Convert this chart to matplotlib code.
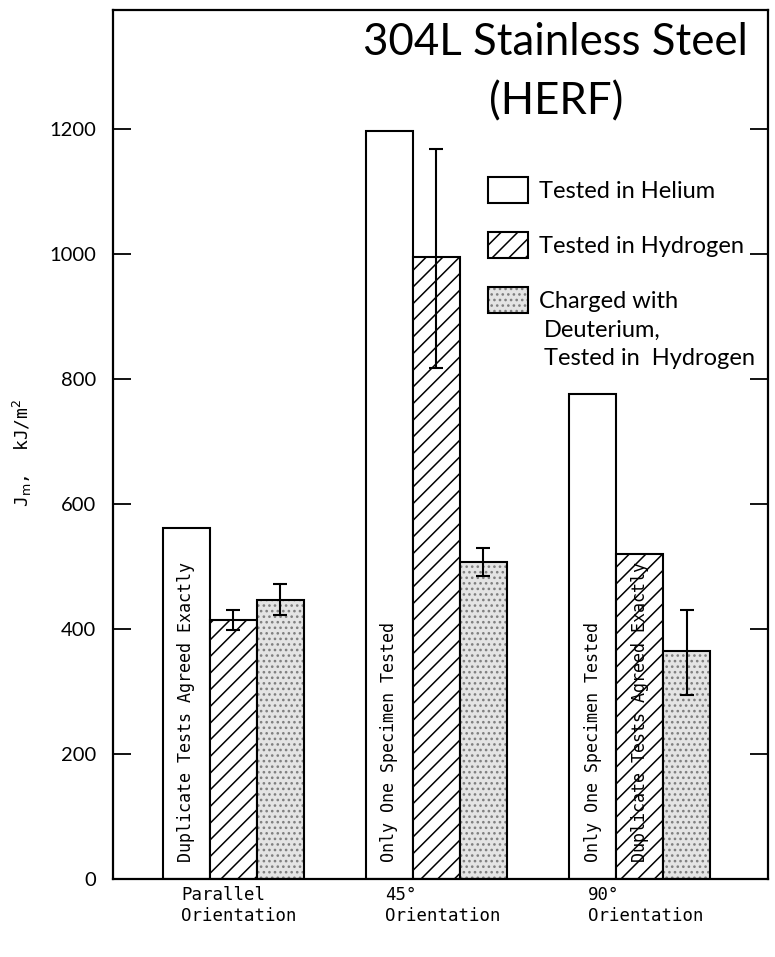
import numpy as np
import matplotlib.pyplot as plt
from matplotlib.patches import Patch
from matplotlib.legend_handler import HandlerTuple

# J_m values (kJ/m^2) for each orientation
orientations = ['Parallel\nOrientation', '45°\nOrientation', '90°\nOrientation']
helium = [562, 1197, 776]
hydrogen = [414, 995, 520]
deuterium = [446, 507, 365]

# scatter bands (below, above); only where more than one specimen was tested
hydrogen_err_idx = [0, 1]
hydrogen_err_low = [16, 178]
hydrogen_err_high = [17, 172]
deuterium_err_idx = [0, 1, 2]
deuterium_err_low = [24, 23, 70]
deuterium_err_high = [26, 22, 65]

# notes written inside bars: (group, series, text)
bar_notes = [(0, 0, 'Duplicate Tests Agreed Exactly'),
             (1, 0, 'Only One Specimen Tested'),
             (2, 0, 'Only One Specimen Tested'),
             (2, 1, 'Duplicate Tests Agreed Exactly')]

plt.rcParams['hatch.linewidth'] = 1.1
mono = 'DejaVu Sans Mono'
sans = 'Lato'
stip_face, stip_dot = '#e4e4e4', '#7f7f7f'

fig = plt.figure(figsize=(7.75, 9.57), dpi=100)
ax = fig.add_axes([0.1458, 0.0815, 0.8452, 0.9081])

x = np.arange(len(orientations))
w = 0.231
pos = [x - w, x, x + w]

ax.bar(pos[0], helium, w, color='white', edgecolor='black', linewidth=1.5)
ax.bar(pos[1], hydrogen, w, color='white', edgecolor='black', linewidth=1.5, hatch='//')
# stippled fill first, then the outline on top
ax.bar(pos[2], deuterium, w, color=stip_face, edgecolor=stip_dot, linewidth=0, hatch='...')
ax.bar(pos[2], deuterium, w, fill=False, edgecolor='black', linewidth=1.5)

hydrogen = np.array(hydrogen)
deuterium = np.array(deuterium)
ax.errorbar(pos[1][hydrogen_err_idx], hydrogen[hydrogen_err_idx],
            yerr=[hydrogen_err_low, hydrogen_err_high], fmt='none',
            ecolor='black', elinewidth=1.5, capsize=5, capthick=1.5)
ax.errorbar(pos[2][deuterium_err_idx], deuterium[deuterium_err_idx],
            yerr=[deuterium_err_low, deuterium_err_high], fmt='none',
            ecolor='black', elinewidth=1.5, capsize=5, capthick=1.5)

for g, s, note in bar_notes:
    ax.text(pos[s][g], 27, note, rotation=90, ha='center', va='bottom',
            family=mono, fontsize=12)

ax.set_xlim(-0.59, 2.63)
ax.set_ylim(0, 1390)
ax.set_yticks(range(0, 1201, 200))
# group labels sit a little right of the group centre
ax.set_xticks(x + 0.03)
ax.set_xticklabels(orientations, family=mono, fontsize=12.5, multialignment='left')
ax.tick_params(axis='x', length=0, pad=5)
ax.tick_params(axis='y', direction='in', length=13, width=1.3, right=True,
               pad=12, labelsize=14.5)
for lab in ax.get_yticklabels():
    lab.set_family(sans)
for sp in ax.spines.values():
    sp.set_linewidth(1.6)

ax.set_ylabel('J$_{\\mathrm{m}}$,  kJ/m$^2$', family=mono, fontsize=13)
ax.yaxis.set_label_coords(-0.12, 0.49)

ax.text(0.676, 0.928, '304L Stainless Steel\n(HERF)', transform=ax.transAxes,
        ha='center', va='center', family=sans, fontsize=31.5, linespacing=1.55)

h_he = Patch(facecolor='white', edgecolor='black', linewidth=1.5)
h_h2 = Patch(facecolor='white', edgecolor='black', linewidth=1.5, hatch='//')
h_d2 = (Patch(facecolor=stip_face, edgecolor=stip_dot, linewidth=0, hatch='...'),
        Patch(fill=False, edgecolor='black', linewidth=1.5))
ax.legend([h_he, h_h2, h_d2], ['Tested in Helium', 'Tested in Hydrogen', 'Charged with'],
          handler_map={tuple: HandlerTuple(ndivide=1)},
          loc='upper left', bbox_to_anchor=(0.5725, 0.808), frameon=False,
          prop={'family': sans, 'size': 17}, handlelength=1.7, handleheight=1.3,
          handletextpad=0.45, labelspacing=1.25, borderpad=0, borderaxespad=0)
ax.text(0.658, 0.643, 'Deuterium,\nTested in  Hydrogen', transform=ax.transAxes,
        ha='left', va='top', family=sans, fontsize=17, linespacing=1.38)

fig.savefig('out.png', dpi=100)
